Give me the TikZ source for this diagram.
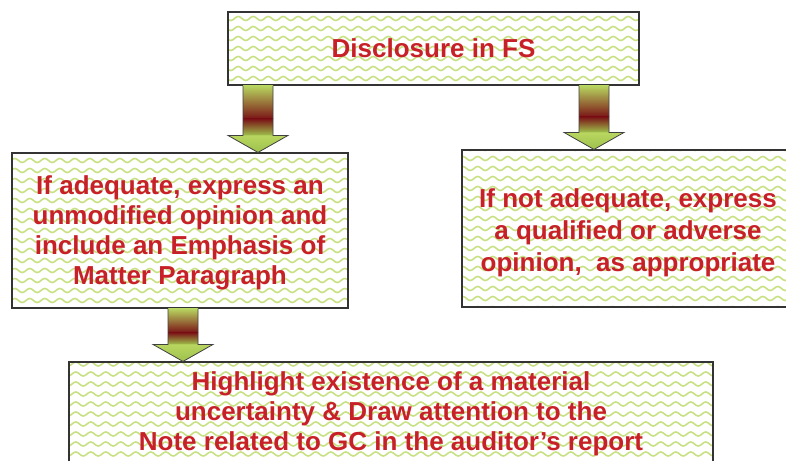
\documentclass[tikz,border=0pt]{standalone}
\usepackage{fontspec}
\setmainfont{Liberation Sans}
\usetikzlibrary{calc}

\definecolor{leaf}{RGB}{184,214,96}
\definecolor{leafdark}{RGB}{158,194,76}
\definecolor{maroon}{RGB}{122,20,22}
\definecolor{wavegreen}{RGB}{200,225,132}
\definecolor{textred}{RGB}{200,32,40}

\newcommand*{\shaftw}{15}
\newcommand*{\headw}{30}
\newcommand*{\headh}{17}

% block arrow: #1 = coordinate giving x, #2 = from node, #3 = to node
\newcommand*{\blockarrow}[3]{%
	\coordinate (s) at (#2.south -| #1);
	\coordinate (e) at (#3.north -| #1);
	\coordinate (b) at ($(e)+(0,\headh)$);
	\coordinate (m) at ($(s)!0.67!(b)$);
	\shade[top color=leaf, bottom color=maroon] ($(s)+(-\shaftw,0)$) rectangle ($(m)+(\shaftw,0)$);
	\shade[top color=maroon, bottom color=leafdark] ($(m)+(-\shaftw,0)$) rectangle ($(b)+(\shaftw,0)$);
	\shade[top color=leaf, bottom color=leafdark] ($(b)+(-\headw,0)$) -- ($(b)+(\headw,0)$) -- (e) -- cycle;
	\draw[arrowline] ($(s)+(-\shaftw,0)$) -- ($(b)+(-\shaftw,0)$) -- ($(b)+(-\headw,0)$) -- (e)
		-- ($(b)+(\headw,0)$) -- ($(b)+(\shaftw,0)$) -- ($(s)+(\shaftw,0)$);
}

\begin{document}
\begin{tikzpicture}
[
	x=1pt, y=1pt,
	wave/.style={wavegreen, line width=1.6pt},
	box/.style={rectangle, draw=black!80, line width=1.1pt, fill=white, inner sep=0pt,
		text=textred, align=center, font=\fontsize{26}{30}\selectfont\bfseries,
		path picture={
			\foreach \r in {-10,...,10}
				\draw[wave] ($(path picture bounding box.center)+(-424,\r*10)$)
					\foreach \k in {1,...,57} { sin ++(3.75,2) cos ++(3.75,-2) sin ++(3.75,-2) cos ++(3.75,2) };
		}},
	arrowline/.style={draw=black!75, line width=0.8pt, line join=miter}
]

	\clip (0,0) rectangle (786,460);

	% boxes
	\node[box, minimum width=411, minimum height=73] (disclosure) at (433.5,411.5) {Disclosure in FS};
	\node[box, minimum width=336, minimum height=155] (adequate) at (180,229.5)
		{\rule{0pt}{23pt}If adequate, express an\\unmodified opinion and\\include an Emphasis of\\Matter Paragraph};
	\node[box, minimum width=332, minimum height=157, font=\fontsize{26}{32}\selectfont\bfseries] (notadequate) at (628,231.5)
		{\rule{0pt}{27pt}If not adequate, express\\a qualified or adverse\\opinion, \ as appropriate};
	\node[box, minimum width=644, minimum height=104] (highlight) at (391,46)
		{Highlight existence of a material\\uncertainty \& Draw attention to the\\Note related to GC in the auditor’s report};

	% arrows
	\coordinate (xleft) at (258,0);
	\coordinate (xright) at (594,0);
	\coordinate (xlow) at (183,0);
	\blockarrow{xleft}{disclosure}{adequate}
	\blockarrow{xright}{disclosure}{notadequate}
	\blockarrow{xlow}{adequate}{highlight}

\end{tikzpicture}
\end{document}
